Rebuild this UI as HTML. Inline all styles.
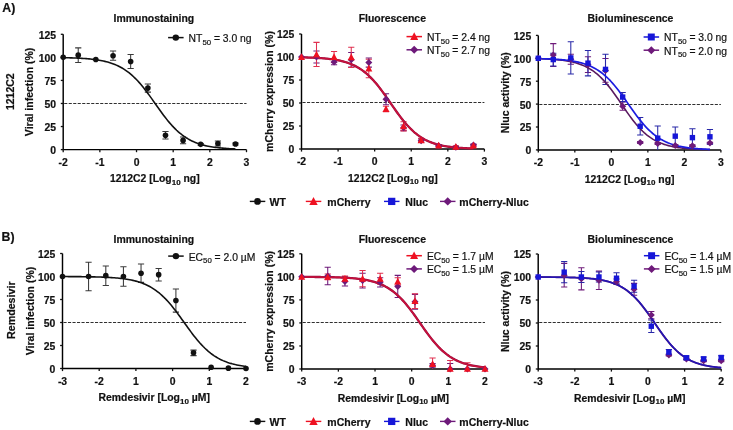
<!DOCTYPE html>
<html><head><meta charset="utf-8"><style>
html,body{margin:0;padding:0;background:#fff;width:733px;height:430px;overflow:hidden}
svg{display:block;will-change:transform}
text{font-family:"Liberation Sans", sans-serif;fill:#111;stroke:#111;stroke-width:0.2px}
</style></head><body>
<svg width="733" height="430" viewBox="0 0 733 430">
<text x="2.3" y="12.2" font-size="12.3" font-weight="bold">A)</text>
<text x="1.6" y="240.5" font-size="12.3" font-weight="bold">B)</text>
<text transform="translate(14.4,91.7) rotate(-90)" font-size="10.5" font-weight="bold" text-anchor="middle">1212C2</text>
<text transform="translate(14.5,310.2) rotate(-90)" font-size="10.7" font-weight="bold" text-anchor="middle">Remdesivir</text>
<text x="153.9" y="21.5" font-size="10.45" font-weight="bold" text-anchor="middle">Immunostaining</text>
<line x1="64.2" y1="103.50" x2="246.5" y2="103.50" stroke="#303030" stroke-width="1.15" stroke-dasharray="3.1 1.4"/>
<path d="M63.20 34.30V149.60H246.50" fill="none" stroke="#000" stroke-width="1.45"/>
<line x1="60.80" y1="149.60" x2="63.20" y2="149.60" stroke="#111111" stroke-width="1.3"/>
<text x="56.10" y="154.00" font-size="10.4" font-weight="bold" text-anchor="end">0</text>
<line x1="60.80" y1="126.54" x2="63.20" y2="126.54" stroke="#111111" stroke-width="1.3"/>
<text x="56.10" y="130.94" font-size="10.4" font-weight="bold" text-anchor="end">25</text>
<line x1="60.80" y1="103.48" x2="63.20" y2="103.48" stroke="#111111" stroke-width="1.3"/>
<text x="56.10" y="107.88" font-size="10.4" font-weight="bold" text-anchor="end">50</text>
<line x1="60.80" y1="80.42" x2="63.20" y2="80.42" stroke="#111111" stroke-width="1.3"/>
<text x="56.10" y="84.82" font-size="10.4" font-weight="bold" text-anchor="end">75</text>
<line x1="60.80" y1="57.36" x2="63.20" y2="57.36" stroke="#111111" stroke-width="1.3"/>
<text x="56.10" y="61.76" font-size="10.4" font-weight="bold" text-anchor="end">100</text>
<line x1="60.80" y1="34.30" x2="63.20" y2="34.30" stroke="#111111" stroke-width="1.3"/>
<text x="56.10" y="38.70" font-size="10.4" font-weight="bold" text-anchor="end">125</text>
<line x1="63.20" y1="149.60" x2="63.20" y2="152.20" stroke="#111111" stroke-width="1.3"/>
<text x="63.20" y="165.60" font-size="10.4" font-weight="bold" text-anchor="middle">-2</text>
<line x1="99.86" y1="149.60" x2="99.86" y2="152.20" stroke="#111111" stroke-width="1.3"/>
<text x="99.86" y="165.60" font-size="10.4" font-weight="bold" text-anchor="middle">-1</text>
<line x1="136.52" y1="149.60" x2="136.52" y2="152.20" stroke="#111111" stroke-width="1.3"/>
<text x="136.52" y="165.60" font-size="10.4" font-weight="bold" text-anchor="middle">0</text>
<line x1="173.18" y1="149.60" x2="173.18" y2="152.20" stroke="#111111" stroke-width="1.3"/>
<text x="173.18" y="165.60" font-size="10.4" font-weight="bold" text-anchor="middle">1</text>
<line x1="209.84" y1="149.60" x2="209.84" y2="152.20" stroke="#111111" stroke-width="1.3"/>
<text x="209.84" y="165.60" font-size="10.4" font-weight="bold" text-anchor="middle">2</text>
<line x1="246.50" y1="149.60" x2="246.50" y2="152.20" stroke="#111111" stroke-width="1.3"/>
<text x="246.50" y="165.60" font-size="10.4" font-weight="bold" text-anchor="middle">3</text>
<text x="154.8" y="182.3" font-size="10.4" font-weight="bold" text-anchor="middle">1212C2 [Log<tspan font-size="8" dy="2.5">10</tspan><tspan dy="-2.5"> ng]</tspan></text>
<text transform="translate(33.3,91.9) rotate(-90)" font-size="10.5" font-weight="bold" text-anchor="middle">Viral infection (%)</text>
<path d="M78.23 47.86V62.43M75.13 47.86H81.33M75.13 62.43H81.33" stroke="#3a3a3a" stroke-width="1.05" fill="none"/>
<path d="M113.06 51.09V60.31M109.96 51.09H116.16M109.96 60.31H116.16" stroke="#3a3a3a" stroke-width="1.05" fill="none"/>
<path d="M130.65 54.59V68.43M127.55 54.59H133.75M127.55 68.43H133.75" stroke="#3a3a3a" stroke-width="1.05" fill="none"/>
<path d="M147.88 84.02V92.13M144.78 84.02H150.98M144.78 92.13H150.98" stroke="#3a3a3a" stroke-width="1.05" fill="none"/>
<path d="M165.48 131.52V138.90M162.38 131.52H168.58M162.38 138.90H168.58" stroke="#3a3a3a" stroke-width="1.05" fill="none"/>
<path d="M183.08 136.96V143.79M179.98 136.96H186.18M179.98 143.79H186.18" stroke="#3a3a3a" stroke-width="1.05" fill="none"/>
<path d="M200.68 143.42V145.26M197.58 143.42H203.78M197.58 145.26H203.78" stroke="#3a3a3a" stroke-width="1.05" fill="none"/>
<path d="M217.91 141.02V146.00M214.81 141.02H221.01M214.81 146.00H221.01" stroke="#3a3a3a" stroke-width="1.05" fill="none"/>
<path d="M235.50 143.14V144.99M232.40 143.14H238.60M232.40 144.99H238.60" stroke="#3a3a3a" stroke-width="1.05" fill="none"/>
<polyline points="63.20,57.68 64.64,57.71 66.07,57.74 67.51,57.78 68.94,57.82 70.38,57.86 71.82,57.90 73.25,57.95 74.69,58.01 76.12,58.07 77.56,58.13 78.99,58.20 80.43,58.28 81.87,58.37 83.30,58.46 84.74,58.56 86.17,58.67 87.61,58.78 89.05,58.91 90.48,59.06 91.92,59.21 93.35,59.38 94.79,59.56 96.22,59.76 97.66,59.97 99.10,60.20 100.53,60.46 101.97,60.73 103.40,61.03 104.84,61.36 106.28,61.71 107.71,62.09 109.15,62.51 110.58,62.95 112.02,63.43 113.45,63.96 114.89,64.52 116.33,65.12 117.76,65.78 119.20,66.48 120.63,67.23 122.07,68.03 123.51,68.90 124.94,69.82 126.38,70.80 127.81,71.85 129.25,72.96 130.68,74.14 132.12,75.39 133.56,76.71 134.99,78.09 136.43,79.55 137.86,81.07 139.30,82.66 140.74,84.32 142.17,86.03 143.61,87.81 145.04,89.64 146.48,91.51 147.92,93.44 149.35,95.39 150.79,97.38 152.22,99.40 153.66,101.43 155.09,103.46 156.53,105.50 157.97,107.53 159.40,109.54 160.84,111.53 162.27,113.49 163.71,115.41 165.15,117.29 166.58,119.12 168.02,120.90 169.45,122.62 170.89,124.27 172.32,125.86 173.76,127.39 175.20,128.84 176.63,130.23 178.07,131.55 179.50,132.80 180.94,133.98 182.38,135.09 183.81,136.14 185.25,137.12 186.68,138.05 188.12,138.91 189.55,139.72 190.99,140.47 192.43,141.17 193.86,141.83 195.30,142.43 196.73,143.00 198.17,143.52 199.61,144.00 201.04,144.45 202.48,144.86 203.91,145.24 205.35,145.60 206.79,145.92 208.22,146.22 209.66,146.50 211.09,146.75 212.53,146.99 213.96,147.20 215.40,147.40 216.84,147.58 218.27,147.75 219.71,147.90 221.14,148.04 222.58,148.17 224.02,148.29 225.45,148.40 226.89,148.50 228.32,148.59 229.76,148.68 231.19,148.75 232.63,148.83 234.07,148.89 235.50,148.95" fill="none" stroke="#111111" stroke-width="1.6"/>
<circle cx="63.20" cy="57.36" r="2.80" fill="#111111"/>
<circle cx="78.23" cy="55.15" r="2.80" fill="#111111"/>
<circle cx="95.83" cy="59.57" r="2.80" fill="#111111"/>
<circle cx="113.06" cy="55.70" r="2.80" fill="#111111"/>
<circle cx="130.65" cy="61.51" r="2.80" fill="#111111"/>
<circle cx="147.88" cy="88.08" r="2.80" fill="#111111"/>
<circle cx="165.48" cy="135.21" r="2.80" fill="#111111"/>
<circle cx="183.08" cy="140.38" r="2.80" fill="#111111"/>
<circle cx="200.68" cy="144.34" r="2.80" fill="#111111"/>
<circle cx="217.91" cy="143.51" r="2.80" fill="#111111"/>
<circle cx="235.50" cy="144.07" r="2.80" fill="#111111"/>
<line x1="168.1" y1="37.60" x2="183.6" y2="37.60" stroke="#111111" stroke-width="1.5"/>
<circle cx="175.80" cy="37.60" r="3.22" fill="#111111"/>
<text x="188.6" y="42.00" font-size="10.35" stroke="#111" stroke-width="0.18">NT<tspan font-size="7.8" dy="2.6">50</tspan><tspan dy="-2.6"> = 3.0 ng</tspan></text>
<text x="392.3" y="21.5" font-size="10.45" font-weight="bold" text-anchor="middle">Fluorescence</text>
<line x1="302.5" y1="102.50" x2="484.4" y2="102.50" stroke="#303030" stroke-width="1.15" stroke-dasharray="3.1 1.4"/>
<path d="M301.50 34.00V149.00H484.40" fill="none" stroke="#000" stroke-width="1.45"/>
<line x1="299.10" y1="149.00" x2="301.50" y2="149.00" stroke="#111111" stroke-width="1.3"/>
<text x="294.40" y="153.40" font-size="10.4" font-weight="bold" text-anchor="end">0</text>
<line x1="299.10" y1="126.00" x2="301.50" y2="126.00" stroke="#111111" stroke-width="1.3"/>
<text x="294.40" y="130.40" font-size="10.4" font-weight="bold" text-anchor="end">25</text>
<line x1="299.10" y1="103.00" x2="301.50" y2="103.00" stroke="#111111" stroke-width="1.3"/>
<text x="294.40" y="107.40" font-size="10.4" font-weight="bold" text-anchor="end">50</text>
<line x1="299.10" y1="80.00" x2="301.50" y2="80.00" stroke="#111111" stroke-width="1.3"/>
<text x="294.40" y="84.40" font-size="10.4" font-weight="bold" text-anchor="end">75</text>
<line x1="299.10" y1="57.00" x2="301.50" y2="57.00" stroke="#111111" stroke-width="1.3"/>
<text x="294.40" y="61.40" font-size="10.4" font-weight="bold" text-anchor="end">100</text>
<line x1="299.10" y1="34.00" x2="301.50" y2="34.00" stroke="#111111" stroke-width="1.3"/>
<text x="294.40" y="38.40" font-size="10.4" font-weight="bold" text-anchor="end">125</text>
<line x1="301.50" y1="149.00" x2="301.50" y2="151.60" stroke="#111111" stroke-width="1.3"/>
<text x="301.50" y="165.00" font-size="10.4" font-weight="bold" text-anchor="middle">-2</text>
<line x1="338.08" y1="149.00" x2="338.08" y2="151.60" stroke="#111111" stroke-width="1.3"/>
<text x="338.08" y="165.00" font-size="10.4" font-weight="bold" text-anchor="middle">-1</text>
<line x1="374.66" y1="149.00" x2="374.66" y2="151.60" stroke="#111111" stroke-width="1.3"/>
<text x="374.66" y="165.00" font-size="10.4" font-weight="bold" text-anchor="middle">0</text>
<line x1="411.24" y1="149.00" x2="411.24" y2="151.60" stroke="#111111" stroke-width="1.3"/>
<text x="411.24" y="165.00" font-size="10.4" font-weight="bold" text-anchor="middle">1</text>
<line x1="447.82" y1="149.00" x2="447.82" y2="151.60" stroke="#111111" stroke-width="1.3"/>
<text x="447.82" y="165.00" font-size="10.4" font-weight="bold" text-anchor="middle">2</text>
<line x1="484.40" y1="149.00" x2="484.40" y2="151.60" stroke="#111111" stroke-width="1.3"/>
<text x="484.40" y="165.00" font-size="10.4" font-weight="bold" text-anchor="middle">3</text>
<text x="392.9" y="181.7" font-size="10.4" font-weight="bold" text-anchor="middle">1212C2 [Log<tspan font-size="8" dy="2.5">10</tspan><tspan dy="-2.5"> ng]</tspan></text>
<text transform="translate(272.6,91.5) rotate(-90)" font-size="10.5" font-weight="bold" text-anchor="middle">mCherry expression (%)</text>
<path d="M316.50 51.02V62.98M313.40 51.02H319.60M313.40 62.98H319.60" stroke="#6e1a7a" stroke-width="1.05" fill="none"/>
<path d="M334.06 59.30V64.82M330.96 59.30H337.16M330.96 64.82H337.16" stroke="#6e1a7a" stroke-width="1.05" fill="none"/>
<path d="M351.25 52.40V67.12M348.15 52.40H354.35M348.15 67.12H354.35" stroke="#6e1a7a" stroke-width="1.05" fill="none"/>
<path d="M368.81 57.92V67.12M365.71 57.92H371.91M365.71 67.12H371.91" stroke="#6e1a7a" stroke-width="1.05" fill="none"/>
<path d="M386.00 93.80V104.84M382.90 93.80H389.10M382.90 104.84H389.10" stroke="#6e1a7a" stroke-width="1.05" fill="none"/>
<path d="M403.56 125.08V130.60M400.46 125.08H406.66M400.46 130.60H406.66" stroke="#6e1a7a" stroke-width="1.05" fill="none"/>
<path d="M421.12 138.88V142.56M418.02 138.88H424.22M418.02 142.56H424.22" stroke="#6e1a7a" stroke-width="1.05" fill="none"/>
<path d="M438.67 144.86V146.70M435.57 144.86H441.77M435.57 146.70H441.77" stroke="#6e1a7a" stroke-width="1.05" fill="none"/>
<path d="M455.87 146.24V148.08M452.77 146.24H458.97M452.77 148.08H458.97" stroke="#6e1a7a" stroke-width="1.05" fill="none"/>
<path d="M473.43 144.12V145.96M470.33 144.12H476.53M470.33 145.96H476.53" stroke="#6e1a7a" stroke-width="1.05" fill="none"/>
<path d="M316.50 42.37V66.48M313.40 42.37H319.60M313.40 66.48H319.60" stroke="#e03050" stroke-width="1.05" fill="none"/>
<path d="M334.06 51.48V62.52M330.96 51.48H337.16M330.96 62.52H337.16" stroke="#e03050" stroke-width="1.05" fill="none"/>
<path d="M351.25 47.16V67.40M348.15 47.16H354.35M348.15 67.40H354.35" stroke="#e03050" stroke-width="1.05" fill="none"/>
<path d="M368.81 59.30V77.70M365.71 59.30H371.91M365.71 77.70H371.91" stroke="#e03050" stroke-width="1.05" fill="none"/>
<path d="M386.00 106.22V111.74M382.90 106.22H389.10M382.90 111.74H389.10" stroke="#e03050" stroke-width="1.05" fill="none"/>
<path d="M403.56 121.68V130.88M400.46 121.68H406.66M400.46 130.88H406.66" stroke="#e03050" stroke-width="1.05" fill="none"/>
<path d="M421.12 138.33V142.01M418.02 138.33H424.22M418.02 142.01H424.22" stroke="#e03050" stroke-width="1.05" fill="none"/>
<path d="M438.67 144.58V146.42M435.57 144.58H441.77M435.57 146.42H441.77" stroke="#e03050" stroke-width="1.05" fill="none"/>
<path d="M455.87 145.78V147.62M452.77 145.78H458.97M452.77 147.62H458.97" stroke="#e03050" stroke-width="1.05" fill="none"/>
<path d="M473.43 144.58V146.42M470.33 144.58H476.53M470.33 146.42H476.53" stroke="#e03050" stroke-width="1.05" fill="none"/>
<polyline points="301.50,57.34 302.93,57.37 304.37,57.40 305.80,57.44 307.23,57.48 308.66,57.53 310.10,57.58 311.53,57.63 312.96,57.69 314.39,57.76 315.83,57.83 317.26,57.91 318.69,57.99 320.13,58.08 321.56,58.18 322.99,58.29 324.42,58.41 325.86,58.55 327.29,58.69 328.72,58.85 330.15,59.02 331.59,59.20 333.02,59.40 334.45,59.62 335.89,59.86 337.32,60.13 338.75,60.41 340.18,60.72 341.62,61.05 343.05,61.42 344.48,61.81 345.91,62.24 347.35,62.71 348.78,63.21 350.21,63.75 351.65,64.34 353.08,64.97 354.51,65.65 355.94,66.38 357.38,67.17 358.81,68.02 360.24,68.92 361.67,69.89 363.11,70.92 364.54,72.02 365.97,73.19 367.40,74.43 368.84,75.74 370.27,77.12 371.70,78.57 373.14,80.10 374.57,81.69 376.00,83.36 377.43,85.08 378.87,86.87 380.30,88.72 381.73,90.62 383.16,92.57 384.60,94.55 386.03,96.57 387.46,98.62 388.90,100.68 390.33,102.75 391.76,104.83 393.19,106.89 394.63,108.94 396.06,110.97 397.49,112.96 398.92,114.92 400.36,116.83 401.79,118.69 403.22,120.50 404.66,122.24 406.09,123.92 407.52,125.53 408.95,127.07 410.39,128.54 411.82,129.94 413.25,131.27 414.68,132.52 416.12,133.71 417.55,134.82 418.98,135.87 420.42,136.85 421.85,137.77 423.28,138.63 424.71,139.43 426.15,140.18 427.58,140.87 429.01,141.52 430.44,142.11 431.88,142.67 433.31,143.18 434.74,143.65 436.18,144.09 437.61,144.49 439.04,144.86 440.47,145.20 441.91,145.52 443.34,145.81 444.77,146.08 446.20,146.32 447.64,146.55 449.07,146.75 450.50,146.94 451.94,147.12 453.37,147.27 454.80,147.42 456.23,147.55 457.67,147.68 459.10,147.79 460.53,147.89 461.96,147.99 463.40,148.07 464.83,148.15 466.26,148.23 467.70,148.29 469.13,148.35 470.56,148.41 471.99,148.46 473.43,148.51" fill="none" stroke="#901040" stroke-width="2.3"/>
<polyline points="301.50,57.34 302.93,57.37 304.37,57.40 305.80,57.44 307.23,57.48 308.66,57.53 310.10,57.58 311.53,57.63 312.96,57.69 314.39,57.76 315.83,57.83 317.26,57.91 318.69,57.99 320.13,58.08 321.56,58.18 322.99,58.29 324.42,58.41 325.86,58.55 327.29,58.69 328.72,58.85 330.15,59.02 331.59,59.20 333.02,59.40 334.45,59.62 335.89,59.86 337.32,60.13 338.75,60.41 340.18,60.72 341.62,61.05 343.05,61.42 344.48,61.81 345.91,62.24 347.35,62.71 348.78,63.21 350.21,63.75 351.65,64.34 353.08,64.97 354.51,65.65 355.94,66.38 357.38,67.17 358.81,68.02 360.24,68.92 361.67,69.89 363.11,70.92 364.54,72.02 365.97,73.19 367.40,74.43 368.84,75.74 370.27,77.12 371.70,78.57 373.14,80.10 374.57,81.69 376.00,83.36 377.43,85.08 378.87,86.87 380.30,88.72 381.73,90.62 383.16,92.57 384.60,94.55 386.03,96.57 387.46,98.62 388.90,100.68 390.33,102.75 391.76,104.83 393.19,106.89 394.63,108.94 396.06,110.97 397.49,112.96 398.92,114.92 400.36,116.83 401.79,118.69 403.22,120.50 404.66,122.24 406.09,123.92 407.52,125.53 408.95,127.07 410.39,128.54 411.82,129.94 413.25,131.27 414.68,132.52 416.12,133.71 417.55,134.82 418.98,135.87 420.42,136.85 421.85,137.77 423.28,138.63 424.71,139.43 426.15,140.18 427.58,140.87 429.01,141.52 430.44,142.11 431.88,142.67 433.31,143.18 434.74,143.65 436.18,144.09 437.61,144.49 439.04,144.86 440.47,145.20 441.91,145.52 443.34,145.81 444.77,146.08 446.20,146.32 447.64,146.55 449.07,146.75 450.50,146.94 451.94,147.12 453.37,147.27 454.80,147.42 456.23,147.55 457.67,147.68 459.10,147.79 460.53,147.89 461.96,147.99 463.40,148.07 464.83,148.15 466.26,148.23 467.70,148.29 469.13,148.35 470.56,148.41 471.99,148.46 473.43,148.51" fill="none" stroke="#c8103c" stroke-width="1.6"/>
<path d="M301.50 53.50L305.00 57.00L301.50 60.50L298.00 57.00Z" fill="#6e1a7a"/>
<path d="M316.50 53.50L320.00 57.00L316.50 60.50L313.00 57.00Z" fill="#6e1a7a"/>
<path d="M334.06 58.56L337.56 62.06L334.06 65.56L330.56 62.06Z" fill="#6e1a7a"/>
<path d="M351.25 56.26L354.75 59.76L351.25 63.26L347.75 59.76Z" fill="#6e1a7a"/>
<path d="M368.81 59.02L372.31 62.52L368.81 66.02L365.31 62.52Z" fill="#6e1a7a"/>
<path d="M386.00 95.82L389.50 99.32L386.00 102.82L382.50 99.32Z" fill="#6e1a7a"/>
<path d="M403.56 124.34L407.06 127.84L403.56 131.34L400.06 127.84Z" fill="#6e1a7a"/>
<path d="M421.12 137.22L424.62 140.72L421.12 144.22L417.62 140.72Z" fill="#6e1a7a"/>
<path d="M438.67 142.28L442.17 145.78L438.67 149.28L435.17 145.78Z" fill="#6e1a7a"/>
<path d="M455.87 143.66L459.37 147.16L455.87 150.66L452.37 147.16Z" fill="#6e1a7a"/>
<path d="M473.43 141.54L476.93 145.04L473.43 148.54L469.93 145.04Z" fill="#6e1a7a"/>
<path d="M301.50 53.33L305.00 59.98L298.00 59.98Z" fill="#ee1122"/>
<path d="M316.50 50.75L320.00 57.40L313.00 57.40Z" fill="#ee1122"/>
<path d="M334.06 53.33L337.56 59.98L330.56 59.98Z" fill="#ee1122"/>
<path d="M351.25 53.60L354.75 60.25L347.75 60.25Z" fill="#ee1122"/>
<path d="M368.81 64.83L372.31 71.47L365.31 71.47Z" fill="#ee1122"/>
<path d="M386.00 105.30L389.50 111.95L382.50 111.95Z" fill="#ee1122"/>
<path d="M403.56 122.60L407.06 129.25L400.06 129.25Z" fill="#ee1122"/>
<path d="M421.12 136.49L424.62 143.14L417.62 143.14Z" fill="#ee1122"/>
<path d="M438.67 141.83L442.17 148.48L435.17 148.48Z" fill="#ee1122"/>
<path d="M455.87 143.02L459.37 149.67L452.37 149.67Z" fill="#ee1122"/>
<path d="M473.43 141.83L476.93 148.48L469.93 148.48Z" fill="#ee1122"/>
<line x1="406.5" y1="36.60" x2="422.0" y2="36.60" stroke="#ee1122" stroke-width="1.5"/>
<path d="M414.20 32.37L418.22 40.02L410.18 40.02Z" fill="#ee1122"/>
<text x="427.0" y="41.00" font-size="10.35" stroke="#111" stroke-width="0.18">NT<tspan font-size="7.8" dy="2.6">50</tspan><tspan dy="-2.6"> = 2.4 ng</tspan></text>
<line x1="406.5" y1="49.80" x2="422.0" y2="49.80" stroke="#6e1a7a" stroke-width="1.5"/>
<path d="M414.20 45.77L418.22 49.80L414.20 53.82L410.18 49.80Z" fill="#6e1a7a"/>
<text x="427.0" y="54.20" font-size="10.35" stroke="#111" stroke-width="0.18">NT<tspan font-size="7.8" dy="2.6">50</tspan><tspan dy="-2.6"> = 2.7 ng</tspan></text>
<text x="630.5" y="21.5" font-size="10.45" font-weight="bold" text-anchor="middle">Bioluminescence</text>
<line x1="539.3" y1="104.50" x2="720.9" y2="104.50" stroke="#303030" stroke-width="1.15" stroke-dasharray="3.1 1.4"/>
<path d="M538.30 35.40V149.90H720.90" fill="none" stroke="#000" stroke-width="1.45"/>
<line x1="535.90" y1="149.90" x2="538.30" y2="149.90" stroke="#111111" stroke-width="1.3"/>
<text x="531.20" y="154.30" font-size="10.4" font-weight="bold" text-anchor="end">0</text>
<line x1="535.90" y1="127.00" x2="538.30" y2="127.00" stroke="#111111" stroke-width="1.3"/>
<text x="531.20" y="131.40" font-size="10.4" font-weight="bold" text-anchor="end">25</text>
<line x1="535.90" y1="104.10" x2="538.30" y2="104.10" stroke="#111111" stroke-width="1.3"/>
<text x="531.20" y="108.50" font-size="10.4" font-weight="bold" text-anchor="end">50</text>
<line x1="535.90" y1="81.20" x2="538.30" y2="81.20" stroke="#111111" stroke-width="1.3"/>
<text x="531.20" y="85.60" font-size="10.4" font-weight="bold" text-anchor="end">75</text>
<line x1="535.90" y1="58.30" x2="538.30" y2="58.30" stroke="#111111" stroke-width="1.3"/>
<text x="531.20" y="62.70" font-size="10.4" font-weight="bold" text-anchor="end">100</text>
<line x1="535.90" y1="35.40" x2="538.30" y2="35.40" stroke="#111111" stroke-width="1.3"/>
<text x="531.20" y="39.80" font-size="10.4" font-weight="bold" text-anchor="end">125</text>
<line x1="538.30" y1="149.90" x2="538.30" y2="152.50" stroke="#111111" stroke-width="1.3"/>
<text x="538.30" y="165.90" font-size="10.4" font-weight="bold" text-anchor="middle">-2</text>
<line x1="574.82" y1="149.90" x2="574.82" y2="152.50" stroke="#111111" stroke-width="1.3"/>
<text x="574.82" y="165.90" font-size="10.4" font-weight="bold" text-anchor="middle">-1</text>
<line x1="611.34" y1="149.90" x2="611.34" y2="152.50" stroke="#111111" stroke-width="1.3"/>
<text x="611.34" y="165.90" font-size="10.4" font-weight="bold" text-anchor="middle">0</text>
<line x1="647.86" y1="149.90" x2="647.86" y2="152.50" stroke="#111111" stroke-width="1.3"/>
<text x="647.86" y="165.90" font-size="10.4" font-weight="bold" text-anchor="middle">1</text>
<line x1="684.38" y1="149.90" x2="684.38" y2="152.50" stroke="#111111" stroke-width="1.3"/>
<text x="684.38" y="165.90" font-size="10.4" font-weight="bold" text-anchor="middle">2</text>
<line x1="720.90" y1="149.90" x2="720.90" y2="152.50" stroke="#111111" stroke-width="1.3"/>
<text x="720.90" y="165.90" font-size="10.4" font-weight="bold" text-anchor="middle">3</text>
<text x="629.6" y="182.6" font-size="10.4" font-weight="bold" text-anchor="middle">1212C2 [Log<tspan font-size="8" dy="2.5">10</tspan><tspan dy="-2.5"> ng]</tspan></text>
<text transform="translate(509.4,92.7) rotate(-90)" font-size="10.5" font-weight="bold" text-anchor="middle">Nluc activity (%)</text>
<path d="M553.27 43.64V66.54M550.17 43.64H556.37M550.17 66.54H556.37" stroke="#6e1a7a" stroke-width="1.05" fill="none"/>
<path d="M570.80 54.18V64.25M567.70 54.18H573.90M567.70 64.25H573.90" stroke="#6e1a7a" stroke-width="1.05" fill="none"/>
<path d="M587.97 56.65V72.41M584.87 56.65H591.07M584.87 72.41H591.07" stroke="#6e1a7a" stroke-width="1.05" fill="none"/>
<path d="M605.50 58.48V82.30M602.40 58.48H608.60M602.40 82.30H608.60" stroke="#6e1a7a" stroke-width="1.05" fill="none"/>
<path d="M622.66 102.08V110.33M619.56 102.08H625.76M619.56 110.33H625.76" stroke="#6e1a7a" stroke-width="1.05" fill="none"/>
<path d="M640.19 141.56V143.40M637.09 141.56H643.29M637.09 143.40H643.29" stroke="#6e1a7a" stroke-width="1.05" fill="none"/>
<path d="M657.72 142.57V144.40M654.62 142.57H660.82M654.62 144.40H660.82" stroke="#6e1a7a" stroke-width="1.05" fill="none"/>
<path d="M675.25 144.59V146.42M672.15 144.59H678.35M672.15 146.42H678.35" stroke="#6e1a7a" stroke-width="1.05" fill="none"/>
<path d="M692.41 144.77V146.60M689.31 144.77H695.51M689.31 146.60H695.51" stroke="#6e1a7a" stroke-width="1.05" fill="none"/>
<path d="M709.94 142.21V144.04M706.84 142.21H713.04M706.84 144.04H713.04" stroke="#6e1a7a" stroke-width="1.05" fill="none"/>
<path d="M553.27 53.17V65.99M550.17 53.17H556.37M550.17 65.99H556.37" stroke="#2828a8" stroke-width="1.05" fill="none"/>
<path d="M570.80 41.81V74.06M567.70 41.81H573.90M567.70 74.06H573.90" stroke="#2828a8" stroke-width="1.05" fill="none"/>
<path d="M587.97 50.42V75.89M584.87 50.42H591.07M584.87 75.89H591.07" stroke="#2828a8" stroke-width="1.05" fill="none"/>
<path d="M605.50 54.27V84.50M602.40 54.27H608.60M602.40 84.50H608.60" stroke="#2828a8" stroke-width="1.05" fill="none"/>
<path d="M622.66 92.47V101.63M619.56 92.47H625.76M619.56 101.63H625.76" stroke="#2828a8" stroke-width="1.05" fill="none"/>
<path d="M640.19 117.57V134.97M637.09 117.57H643.29M637.09 134.97H643.29" stroke="#2828a8" stroke-width="1.05" fill="none"/>
<path d="M657.72 125.99V149.90M654.62 125.99H660.82" stroke="#2828a8" stroke-width="1.05" fill="none"/>
<path d="M675.25 127.00V145.32M672.15 127.00H678.35M672.15 145.32H678.35" stroke="#2828a8" stroke-width="1.05" fill="none"/>
<path d="M692.41 128.74V146.51M689.31 128.74H695.51M689.31 146.51H695.51" stroke="#2828a8" stroke-width="1.05" fill="none"/>
<path d="M709.94 129.47V144.13M706.84 129.47H713.04M706.84 144.13H713.04" stroke="#2828a8" stroke-width="1.05" fill="none"/>
<polyline points="538.30,58.73 539.73,58.77 541.16,58.82 542.59,58.87 544.02,58.92 545.45,58.98 546.88,59.05 548.31,59.12 549.74,59.20 551.17,59.28 552.60,59.38 554.03,59.48 555.46,59.59 556.89,59.72 558.33,59.85 559.76,60.00 561.19,60.16 562.62,60.33 564.05,60.52 565.48,60.73 566.91,60.96 568.34,61.21 569.77,61.48 571.20,61.77 572.63,62.09 574.06,62.44 575.49,62.82 576.92,63.23 578.35,63.68 579.78,64.16 581.21,64.69 582.64,65.26 584.07,65.87 585.50,66.54 586.93,67.25 588.36,68.02 589.79,68.85 591.22,69.74 592.65,70.70 594.08,71.72 595.51,72.80 596.95,73.96 598.38,75.19 599.81,76.50 601.24,77.88 602.67,79.33 604.10,80.86 605.53,82.46 606.96,84.13 608.39,85.87 609.82,87.67 611.25,89.54 612.68,91.46 614.11,93.43 615.54,95.44 616.97,97.49 618.40,99.56 619.83,101.66 621.26,103.76 622.69,105.87 624.12,107.96 625.55,110.05 626.98,112.10 628.41,114.13 629.84,116.11 631.27,118.05 632.70,119.93 634.13,121.76 635.56,123.52 637.00,125.21 638.43,126.83 639.86,128.39 641.29,129.86 642.72,131.27 644.15,132.59 645.58,133.85 647.01,135.03 648.44,136.14 649.87,137.18 651.30,138.16 652.73,139.07 654.16,139.91 655.59,140.70 657.02,141.44 658.45,142.12 659.88,142.75 661.31,143.33 662.74,143.87 664.17,144.37 665.60,144.83 667.03,145.25 668.46,145.64 669.89,146.00 671.32,146.33 672.75,146.63 674.18,146.91 675.62,147.16 677.05,147.40 678.48,147.61 679.91,147.81 681.34,147.99 682.77,148.15 684.20,148.30 685.63,148.44 687.06,148.57 688.49,148.68 689.92,148.79 691.35,148.89 692.78,148.97 694.21,149.05 695.64,149.13 697.07,149.20 698.50,149.26 699.93,149.31 701.36,149.36 702.79,149.41 704.22,149.45 705.65,149.49 707.08,149.53 708.51,149.56 709.94,149.59" fill="none" stroke="#5a1a60" stroke-width="1.6"/>
<polyline points="538.30,58.63 539.73,58.66 541.16,58.69 542.59,58.73 544.02,58.77 545.45,58.82 546.88,58.86 548.31,58.92 549.74,58.97 551.17,59.03 552.60,59.10 554.03,59.18 555.46,59.26 556.89,59.35 558.33,59.44 559.76,59.55 561.19,59.66 562.62,59.79 564.05,59.92 565.48,60.07 566.91,60.24 568.34,60.41 569.77,60.60 571.20,60.81 572.63,61.04 574.06,61.29 575.49,61.56 576.92,61.85 578.35,62.17 579.78,62.51 581.21,62.89 582.64,63.29 584.07,63.73 585.50,64.20 586.93,64.72 588.36,65.27 589.79,65.87 591.22,66.51 592.65,67.20 594.08,67.95 595.51,68.75 596.95,69.60 598.38,70.52 599.81,71.49 601.24,72.53 602.67,73.64 604.10,74.81 605.53,76.06 606.96,77.37 608.39,78.75 609.82,80.21 611.25,81.73 612.68,83.32 614.11,84.98 615.54,86.70 616.97,88.47 618.40,90.31 619.83,92.19 621.26,94.12 622.69,96.08 624.12,98.08 625.55,100.10 626.98,102.13 628.41,104.18 629.84,106.22 631.27,108.26 632.70,110.27 634.13,112.27 635.56,114.23 637.00,116.16 638.43,118.03 639.86,119.86 641.29,121.64 642.72,123.35 644.15,125.00 645.58,126.59 647.01,128.11 648.44,129.55 649.87,130.93 651.30,132.24 652.73,133.48 654.16,134.65 655.59,135.75 657.02,136.78 658.45,137.76 659.88,138.67 661.31,139.52 662.74,140.31 664.17,141.05 665.60,141.74 667.03,142.38 668.46,142.97 669.89,143.52 671.32,144.03 672.75,144.50 674.18,144.94 675.62,145.34 677.05,145.71 678.48,146.06 679.91,146.37 681.34,146.66 682.77,146.93 684.20,147.18 685.63,147.40 687.06,147.61 688.49,147.80 689.92,147.98 691.35,148.14 692.78,148.29 694.21,148.42 695.64,148.55 697.07,148.66 698.50,148.76 699.93,148.86 701.36,148.95 702.79,149.03 704.22,149.10 705.65,149.17 707.08,149.23 708.51,149.29 709.94,149.34" fill="none" stroke="#1c1ce0" stroke-width="1.7"/>
<path d="M538.30 54.80L541.80 58.30L538.30 61.80L534.80 58.30Z" fill="#6e1a7a"/>
<path d="M553.27 51.59L556.77 55.09L553.27 58.59L549.77 55.09Z" fill="#6e1a7a"/>
<path d="M570.80 55.72L574.30 59.22L570.80 62.72L567.30 59.22Z" fill="#6e1a7a"/>
<path d="M587.97 61.03L591.47 64.53L587.97 68.03L584.47 64.53Z" fill="#6e1a7a"/>
<path d="M605.50 66.89L609.00 70.39L605.50 73.89L602.00 70.39Z" fill="#6e1a7a"/>
<path d="M622.66 102.71L626.16 106.21L622.66 109.71L619.16 106.21Z" fill="#6e1a7a"/>
<path d="M640.19 138.98L643.69 142.48L640.19 145.98L636.69 142.48Z" fill="#6e1a7a"/>
<path d="M657.72 139.99L661.22 143.49L657.72 146.99L654.22 143.49Z" fill="#6e1a7a"/>
<path d="M675.25 142.00L678.75 145.50L675.25 149.00L671.75 145.50Z" fill="#6e1a7a"/>
<path d="M692.41 142.19L695.91 145.69L692.41 149.19L688.91 145.69Z" fill="#6e1a7a"/>
<path d="M709.94 139.62L713.44 143.12L709.94 146.62L706.44 143.12Z" fill="#6e1a7a"/>
<rect x="535.60" y="55.60" width="5.40" height="5.40" fill="#1616d8"/>
<rect x="550.57" y="56.88" width="5.40" height="5.40" fill="#1616d8"/>
<rect x="568.10" y="55.23" width="5.40" height="5.40" fill="#1616d8"/>
<rect x="585.27" y="60.45" width="5.40" height="5.40" fill="#1616d8"/>
<rect x="602.80" y="66.68" width="5.40" height="5.40" fill="#1616d8"/>
<rect x="619.96" y="94.35" width="5.40" height="5.40" fill="#1616d8"/>
<rect x="637.49" y="123.57" width="5.40" height="5.40" fill="#1616d8"/>
<rect x="655.02" y="135.48" width="5.40" height="5.40" fill="#1616d8"/>
<rect x="672.55" y="133.46" width="5.40" height="5.40" fill="#1616d8"/>
<rect x="689.71" y="134.93" width="5.40" height="5.40" fill="#1616d8"/>
<rect x="707.24" y="134.10" width="5.40" height="5.40" fill="#1616d8"/>
<line x1="643.6" y1="37.00" x2="659.1" y2="37.00" stroke="#1616d8" stroke-width="1.5"/>
<rect x="647.82" y="33.52" width="6.96" height="6.96" fill="#1616d8"/>
<text x="664.1" y="41.40" font-size="10.35" stroke="#111" stroke-width="0.18">NT<tspan font-size="7.8" dy="2.6">50</tspan><tspan dy="-2.6"> = 3.0 ng</tspan></text>
<line x1="643.6" y1="50.20" x2="659.1" y2="50.20" stroke="#6e1a7a" stroke-width="1.5"/>
<path d="M651.30 46.18L655.33 50.20L651.30 54.23L647.28 50.20Z" fill="#6e1a7a"/>
<text x="664.1" y="54.60" font-size="10.35" stroke="#111" stroke-width="0.18">NT<tspan font-size="7.8" dy="2.6">50</tspan><tspan dy="-2.6"> = 2.0 ng</tspan></text>
<text x="153.9" y="243.4" font-size="10.45" font-weight="bold" text-anchor="middle">Immunostaining</text>
<line x1="63.5" y1="322.50" x2="246.0" y2="322.50" stroke="#303030" stroke-width="1.15" stroke-dasharray="3.1 1.4"/>
<path d="M62.50 253.50V368.50H246.00" fill="none" stroke="#000" stroke-width="1.45"/>
<line x1="60.10" y1="368.50" x2="62.50" y2="368.50" stroke="#111111" stroke-width="1.3"/>
<text x="55.40" y="372.90" font-size="10.4" font-weight="bold" text-anchor="end">0</text>
<line x1="60.10" y1="345.50" x2="62.50" y2="345.50" stroke="#111111" stroke-width="1.3"/>
<text x="55.40" y="349.90" font-size="10.4" font-weight="bold" text-anchor="end">25</text>
<line x1="60.10" y1="322.50" x2="62.50" y2="322.50" stroke="#111111" stroke-width="1.3"/>
<text x="55.40" y="326.90" font-size="10.4" font-weight="bold" text-anchor="end">50</text>
<line x1="60.10" y1="299.50" x2="62.50" y2="299.50" stroke="#111111" stroke-width="1.3"/>
<text x="55.40" y="303.90" font-size="10.4" font-weight="bold" text-anchor="end">75</text>
<line x1="60.10" y1="276.50" x2="62.50" y2="276.50" stroke="#111111" stroke-width="1.3"/>
<text x="55.40" y="280.90" font-size="10.4" font-weight="bold" text-anchor="end">100</text>
<line x1="60.10" y1="253.50" x2="62.50" y2="253.50" stroke="#111111" stroke-width="1.3"/>
<text x="55.40" y="257.90" font-size="10.4" font-weight="bold" text-anchor="end">125</text>
<line x1="62.50" y1="368.50" x2="62.50" y2="371.10" stroke="#111111" stroke-width="1.3"/>
<text x="62.50" y="384.50" font-size="10.4" font-weight="bold" text-anchor="middle">-3</text>
<line x1="99.20" y1="368.50" x2="99.20" y2="371.10" stroke="#111111" stroke-width="1.3"/>
<text x="99.20" y="384.50" font-size="10.4" font-weight="bold" text-anchor="middle">-2</text>
<line x1="135.90" y1="368.50" x2="135.90" y2="371.10" stroke="#111111" stroke-width="1.3"/>
<text x="135.90" y="384.50" font-size="10.4" font-weight="bold" text-anchor="middle">1</text>
<line x1="172.60" y1="368.50" x2="172.60" y2="371.10" stroke="#111111" stroke-width="1.3"/>
<text x="172.60" y="384.50" font-size="10.4" font-weight="bold" text-anchor="middle">0</text>
<line x1="209.30" y1="368.50" x2="209.30" y2="371.10" stroke="#111111" stroke-width="1.3"/>
<text x="209.30" y="384.50" font-size="10.4" font-weight="bold" text-anchor="middle">1</text>
<line x1="246.00" y1="368.50" x2="246.00" y2="371.10" stroke="#111111" stroke-width="1.3"/>
<text x="246.00" y="384.50" font-size="10.4" font-weight="bold" text-anchor="middle">2</text>
<text x="154.2" y="401.2" font-size="10.4" font-weight="bold" text-anchor="middle">Remdesivir [Log<tspan font-size="8" dy="2.5">10</tspan><tspan dy="-2.5"> µM]</tspan></text>
<text transform="translate(33.6,311.0) rotate(-90)" font-size="10.5" font-weight="bold" text-anchor="middle">Viral infection (%)</text>
<path d="M88.56 262.33V290.67M85.46 262.33H91.66M85.46 290.67H91.66" stroke="#3a3a3a" stroke-width="1.05" fill="none"/>
<path d="M105.81 265.92V285.42M102.71 265.92H108.91M102.71 285.42H108.91" stroke="#3a3a3a" stroke-width="1.05" fill="none"/>
<path d="M123.42 266.66V286.34M120.32 266.66H126.52M120.32 286.34H126.52" stroke="#3a3a3a" stroke-width="1.05" fill="none"/>
<path d="M141.04 263.99V282.39M137.94 263.99H144.14M137.94 282.39H144.14" stroke="#3a3a3a" stroke-width="1.05" fill="none"/>
<path d="M158.65 268.40V280.92M155.55 268.40H161.75M155.55 280.92H161.75" stroke="#3a3a3a" stroke-width="1.05" fill="none"/>
<path d="M175.90 288.92V312.10M172.80 288.92H179.00M172.80 312.10H179.00" stroke="#3a3a3a" stroke-width="1.05" fill="none"/>
<path d="M193.52 350.10V355.62M190.42 350.10H196.62M190.42 355.62H196.62" stroke="#3a3a3a" stroke-width="1.05" fill="none"/>
<polyline points="62.50,276.56 64.03,276.56 65.56,276.57 67.09,276.57 68.62,276.58 70.15,276.59 71.67,276.60 73.20,276.61 74.73,276.62 76.26,276.63 77.79,276.64 79.32,276.66 80.85,276.67 82.38,276.69 83.91,276.71 85.44,276.73 86.97,276.75 88.50,276.77 90.03,276.80 91.55,276.83 93.08,276.86 94.61,276.89 96.14,276.93 97.67,276.97 99.20,277.02 100.73,277.07 102.26,277.13 103.79,277.19 105.32,277.25 106.85,277.32 108.38,277.40 109.90,277.49 111.43,277.59 112.96,277.69 114.49,277.81 116.02,277.93 117.55,278.07 119.08,278.22 120.61,278.38 122.14,278.56 123.67,278.76 125.20,278.97 126.72,279.21 128.25,279.46 129.78,279.74 131.31,280.05 132.84,280.38 134.37,280.74 135.90,281.13 137.43,281.56 138.96,282.02 140.49,282.53 142.02,283.07 143.55,283.66 145.07,284.30 146.60,284.99 148.13,285.74 149.66,286.54 151.19,287.40 152.72,288.33 154.25,289.32 155.78,290.39 157.31,291.52 158.84,292.73 160.37,294.01 161.90,295.37 163.43,296.80 164.95,298.31 166.48,299.90 168.01,301.56 169.54,303.29 171.07,305.09 172.60,306.95 174.13,308.88 175.66,310.86 177.19,312.88 178.72,314.95 180.25,317.05 181.78,319.17 183.30,321.30 184.83,323.44 186.36,325.58 187.89,327.70 189.42,329.80 190.95,331.87 192.48,333.90 194.01,335.89 195.54,337.82 197.07,339.69 198.60,341.50 200.12,343.24 201.65,344.91 203.18,346.50 204.71,348.02 206.24,349.47 207.77,350.83 209.30,352.12 210.83,353.34 212.36,354.48 213.89,355.55 215.42,356.55 216.95,357.49 218.47,358.36 220.00,359.17 221.53,359.92 223.06,360.62 224.59,361.26 226.12,361.86 227.65,362.41 229.18,362.92 230.71,363.39 232.24,363.82 233.77,364.21 235.30,364.58 236.82,364.91 238.35,365.22 239.88,365.50 241.41,365.76 242.94,366.00 244.47,366.22 246.00,366.41" fill="none" stroke="#111111" stroke-width="1.6"/>
<circle cx="62.50" cy="276.50" r="2.80" fill="#111111"/>
<circle cx="88.56" cy="276.50" r="2.80" fill="#111111"/>
<circle cx="105.81" cy="275.67" r="2.80" fill="#111111"/>
<circle cx="123.42" cy="276.50" r="2.80" fill="#111111"/>
<circle cx="141.04" cy="273.19" r="2.80" fill="#111111"/>
<circle cx="158.65" cy="274.66" r="2.80" fill="#111111"/>
<circle cx="175.90" cy="300.51" r="2.80" fill="#111111"/>
<circle cx="193.52" cy="352.86" r="2.80" fill="#111111"/>
<circle cx="211.13" cy="367.30" r="2.80" fill="#111111"/>
<circle cx="228.38" cy="368.13" r="2.80" fill="#111111"/>
<circle cx="246.00" cy="368.50" r="2.80" fill="#111111"/>
<line x1="168.2" y1="256.10" x2="183.7" y2="256.10" stroke="#111111" stroke-width="1.5"/>
<circle cx="175.90" cy="256.10" r="3.22" fill="#111111"/>
<text x="188.7" y="260.50" font-size="10.35" stroke="#111" stroke-width="0.18">EC<tspan font-size="7.8" dy="2.6">50</tspan><tspan dy="-2.6"> = 2.0 µM</tspan></text>
<text x="392.3" y="243.4" font-size="10.45" font-weight="bold" text-anchor="middle">Fluorescence</text>
<line x1="302.7" y1="322.50" x2="485.0" y2="322.50" stroke="#303030" stroke-width="1.15" stroke-dasharray="3.1 1.4"/>
<path d="M301.70 253.80V369.00H485.00" fill="none" stroke="#000" stroke-width="1.45"/>
<line x1="299.30" y1="369.00" x2="301.70" y2="369.00" stroke="#111111" stroke-width="1.3"/>
<text x="294.60" y="373.40" font-size="10.4" font-weight="bold" text-anchor="end">0</text>
<line x1="299.30" y1="345.96" x2="301.70" y2="345.96" stroke="#111111" stroke-width="1.3"/>
<text x="294.60" y="350.36" font-size="10.4" font-weight="bold" text-anchor="end">25</text>
<line x1="299.30" y1="322.92" x2="301.70" y2="322.92" stroke="#111111" stroke-width="1.3"/>
<text x="294.60" y="327.32" font-size="10.4" font-weight="bold" text-anchor="end">50</text>
<line x1="299.30" y1="299.88" x2="301.70" y2="299.88" stroke="#111111" stroke-width="1.3"/>
<text x="294.60" y="304.28" font-size="10.4" font-weight="bold" text-anchor="end">75</text>
<line x1="299.30" y1="276.84" x2="301.70" y2="276.84" stroke="#111111" stroke-width="1.3"/>
<text x="294.60" y="281.24" font-size="10.4" font-weight="bold" text-anchor="end">100</text>
<line x1="299.30" y1="253.80" x2="301.70" y2="253.80" stroke="#111111" stroke-width="1.3"/>
<text x="294.60" y="258.20" font-size="10.4" font-weight="bold" text-anchor="end">125</text>
<line x1="301.70" y1="369.00" x2="301.70" y2="371.60" stroke="#111111" stroke-width="1.3"/>
<text x="301.70" y="385.00" font-size="10.4" font-weight="bold" text-anchor="middle">-3</text>
<line x1="338.36" y1="369.00" x2="338.36" y2="371.60" stroke="#111111" stroke-width="1.3"/>
<text x="338.36" y="385.00" font-size="10.4" font-weight="bold" text-anchor="middle">-2</text>
<line x1="375.02" y1="369.00" x2="375.02" y2="371.60" stroke="#111111" stroke-width="1.3"/>
<text x="375.02" y="385.00" font-size="10.4" font-weight="bold" text-anchor="middle">1</text>
<line x1="411.68" y1="369.00" x2="411.68" y2="371.60" stroke="#111111" stroke-width="1.3"/>
<text x="411.68" y="385.00" font-size="10.4" font-weight="bold" text-anchor="middle">0</text>
<line x1="448.34" y1="369.00" x2="448.34" y2="371.60" stroke="#111111" stroke-width="1.3"/>
<text x="448.34" y="385.00" font-size="10.4" font-weight="bold" text-anchor="middle">1</text>
<line x1="485.00" y1="369.00" x2="485.00" y2="371.60" stroke="#111111" stroke-width="1.3"/>
<text x="485.00" y="385.00" font-size="10.4" font-weight="bold" text-anchor="middle">2</text>
<text x="393.4" y="401.7" font-size="10.4" font-weight="bold" text-anchor="middle">Remdesivir [Log<tspan font-size="8" dy="2.5">10</tspan><tspan dy="-2.5"> µM]</tspan></text>
<text transform="translate(272.8,311.4) rotate(-90)" font-size="10.5" font-weight="bold" text-anchor="middle">mCherry expression (%)</text>
<path d="M327.73 267.16V284.67M324.63 267.16H330.83M324.63 284.67H330.83" stroke="#6e1a7a" stroke-width="1.05" fill="none"/>
<path d="M344.96 276.84V286.06M341.86 276.84H348.06M341.86 286.06H348.06" stroke="#6e1a7a" stroke-width="1.05" fill="none"/>
<path d="M362.56 273.15V287.90M359.46 273.15H365.66M359.46 287.90H365.66" stroke="#6e1a7a" stroke-width="1.05" fill="none"/>
<path d="M380.15 277.76V286.98M377.05 277.76H383.25M377.05 286.98H383.25" stroke="#6e1a7a" stroke-width="1.05" fill="none"/>
<path d="M397.75 275.37V297.48M394.65 275.37H400.85M394.65 297.48H400.85" stroke="#6e1a7a" stroke-width="1.05" fill="none"/>
<path d="M414.98 294.35V309.10M411.88 294.35H418.08M411.88 309.10H418.08" stroke="#6e1a7a" stroke-width="1.05" fill="none"/>
<path d="M432.58 363.47V367.16M429.48 363.47H435.68M429.48 367.16H435.68" stroke="#6e1a7a" stroke-width="1.05" fill="none"/>
<path d="M450.17 363.47V369.00M447.07 363.47H453.27" stroke="#6e1a7a" stroke-width="1.05" fill="none"/>
<path d="M327.73 274.08V279.60M324.63 274.08H330.83M324.63 279.60H330.83" stroke="#e03050" stroke-width="1.05" fill="none"/>
<path d="M344.96 275.92V281.45M341.86 275.92H348.06M341.86 281.45H348.06" stroke="#e03050" stroke-width="1.05" fill="none"/>
<path d="M362.56 270.57V286.79M359.46 270.57H365.66M359.46 286.79H365.66" stroke="#e03050" stroke-width="1.05" fill="none"/>
<path d="M380.15 273.15V284.21M377.05 273.15H383.25M377.05 284.21H383.25" stroke="#e03050" stroke-width="1.05" fill="none"/>
<path d="M397.75 277.76V285.13M394.65 277.76H400.85M394.65 285.13H400.85" stroke="#e03050" stroke-width="1.05" fill="none"/>
<path d="M414.98 293.71V308.45M411.88 293.71H418.08M411.88 308.45H418.08" stroke="#e03050" stroke-width="1.05" fill="none"/>
<path d="M432.58 358.03V369.00M429.48 358.03H435.68" stroke="#e03050" stroke-width="1.05" fill="none"/>
<path d="M450.17 360.43V369.00M447.07 360.43H453.27" stroke="#e03050" stroke-width="1.05" fill="none"/>
<path d="M467.40 362.73V369.00M464.30 362.73H470.50" stroke="#e03050" stroke-width="1.05" fill="none"/>
<polyline points="301.70,276.90 303.23,276.90 304.75,276.91 306.28,276.92 307.81,276.93 309.34,276.93 310.87,276.94 312.39,276.95 313.92,276.97 315.45,276.98 316.97,276.99 318.50,277.01 320.03,277.02 321.56,277.04 323.08,277.06 324.61,277.09 326.14,277.11 327.67,277.14 329.19,277.17 330.72,277.20 332.25,277.23 333.78,277.27 335.31,277.32 336.83,277.36 338.36,277.41 339.89,277.47 341.41,277.53 342.94,277.60 344.47,277.68 346.00,277.76 347.52,277.85 349.05,277.95 350.58,278.06 352.11,278.18 353.63,278.31 355.16,278.45 356.69,278.61 358.22,278.78 359.75,278.97 361.27,279.18 362.80,279.41 364.33,279.66 365.86,279.93 367.38,280.22 368.91,280.55 370.44,280.90 371.97,281.28 373.49,281.70 375.02,282.16 376.55,282.66 378.07,283.20 379.60,283.78 381.13,284.42 382.66,285.10 384.19,285.85 385.71,286.65 387.24,287.51 388.77,288.44 390.29,289.44 391.82,290.51 393.35,291.65 394.88,292.87 396.40,294.17 397.93,295.55 399.46,297.00 400.99,298.54 402.51,300.15 404.04,301.85 405.57,303.61 407.10,305.45 408.62,307.36 410.15,309.33 411.68,311.36 413.21,313.43 414.74,315.54 416.26,317.69 417.79,319.86 419.32,322.04 420.85,324.23 422.37,326.41 423.90,328.58 425.43,330.72 426.95,332.83 428.48,334.89 430.01,336.91 431.54,338.87 433.06,340.76 434.59,342.58 436.12,344.34 437.65,346.01 439.17,347.61 440.70,349.13 442.23,350.57 443.76,351.93 445.28,353.22 446.81,354.42 448.34,355.55 449.87,356.60 451.39,357.59 452.92,358.50 454.45,359.36 455.98,360.15 457.50,360.88 459.03,361.55 460.56,362.18 462.09,362.75 463.62,363.29 465.14,363.77 466.67,364.22 468.20,364.64 469.73,365.01 471.25,365.36 472.78,365.68 474.31,365.97 475.84,366.24 477.36,366.48 478.89,366.70 480.42,366.91 481.95,367.09 483.47,367.26 485.00,367.42" fill="none" stroke="#901040" stroke-width="2.3"/>
<polyline points="301.70,276.90 303.23,276.90 304.75,276.91 306.28,276.92 307.81,276.93 309.34,276.93 310.87,276.94 312.39,276.95 313.92,276.97 315.45,276.98 316.97,276.99 318.50,277.01 320.03,277.02 321.56,277.04 323.08,277.06 324.61,277.09 326.14,277.11 327.67,277.14 329.19,277.17 330.72,277.20 332.25,277.23 333.78,277.27 335.31,277.32 336.83,277.36 338.36,277.41 339.89,277.47 341.41,277.53 342.94,277.60 344.47,277.68 346.00,277.76 347.52,277.85 349.05,277.95 350.58,278.06 352.11,278.18 353.63,278.31 355.16,278.45 356.69,278.61 358.22,278.78 359.75,278.97 361.27,279.18 362.80,279.41 364.33,279.66 365.86,279.93 367.38,280.22 368.91,280.55 370.44,280.90 371.97,281.28 373.49,281.70 375.02,282.16 376.55,282.66 378.07,283.20 379.60,283.78 381.13,284.42 382.66,285.10 384.19,285.85 385.71,286.65 387.24,287.51 388.77,288.44 390.29,289.44 391.82,290.51 393.35,291.65 394.88,292.87 396.40,294.17 397.93,295.55 399.46,297.00 400.99,298.54 402.51,300.15 404.04,301.85 405.57,303.61 407.10,305.45 408.62,307.36 410.15,309.33 411.68,311.36 413.21,313.43 414.74,315.54 416.26,317.69 417.79,319.86 419.32,322.04 420.85,324.23 422.37,326.41 423.90,328.58 425.43,330.72 426.95,332.83 428.48,334.89 430.01,336.91 431.54,338.87 433.06,340.76 434.59,342.58 436.12,344.34 437.65,346.01 439.17,347.61 440.70,349.13 442.23,350.57 443.76,351.93 445.28,353.22 446.81,354.42 448.34,355.55 449.87,356.60 451.39,357.59 452.92,358.50 454.45,359.36 455.98,360.15 457.50,360.88 459.03,361.55 460.56,362.18 462.09,362.75 463.62,363.29 465.14,363.77 466.67,364.22 468.20,364.64 469.73,365.01 471.25,365.36 472.78,365.68 474.31,365.97 475.84,366.24 477.36,366.48 478.89,366.70 480.42,366.91 481.95,367.09 483.47,367.26 485.00,367.42" fill="none" stroke="#c8103c" stroke-width="1.6"/>
<path d="M301.70 273.34L305.20 276.84L301.70 280.34L298.20 276.84Z" fill="#6e1a7a"/>
<path d="M327.73 272.42L331.23 275.92L327.73 279.42L324.23 275.92Z" fill="#6e1a7a"/>
<path d="M344.96 277.95L348.46 281.45L344.96 284.95L341.46 281.45Z" fill="#6e1a7a"/>
<path d="M362.56 277.03L366.06 280.53L362.56 284.03L359.06 280.53Z" fill="#6e1a7a"/>
<path d="M380.15 278.87L383.65 282.37L380.15 285.87L376.65 282.37Z" fill="#6e1a7a"/>
<path d="M397.75 282.92L401.25 286.42L397.75 289.92L394.25 286.42Z" fill="#6e1a7a"/>
<path d="M414.98 298.22L418.48 301.72L414.98 305.22L411.48 301.72Z" fill="#6e1a7a"/>
<path d="M432.58 361.81L436.08 365.31L432.58 368.81L429.08 365.31Z" fill="#6e1a7a"/>
<path d="M450.17 365.50L453.67 369.00L450.17 372.50L446.67 369.00Z" fill="#6e1a7a"/>
<path d="M467.40 365.50L470.90 369.00L467.40 372.50L463.90 369.00Z" fill="#6e1a7a"/>
<path d="M485.00 365.50L488.50 369.00L485.00 372.50L481.50 369.00Z" fill="#6e1a7a"/>
<path d="M301.70 273.17L305.20 279.82L298.20 279.82Z" fill="#ee1122"/>
<path d="M327.73 273.17L331.23 279.82L324.23 279.82Z" fill="#ee1122"/>
<path d="M344.96 275.01L348.46 281.66L341.46 281.66Z" fill="#ee1122"/>
<path d="M362.56 275.01L366.06 281.66L359.06 281.66Z" fill="#ee1122"/>
<path d="M380.15 275.01L383.65 281.66L376.65 281.66Z" fill="#ee1122"/>
<path d="M397.75 277.77L401.25 284.42L394.25 284.42Z" fill="#ee1122"/>
<path d="M414.98 297.40L418.48 304.05L411.48 304.05Z" fill="#ee1122"/>
<path d="M432.58 360.35L436.08 367.00L429.08 367.00Z" fill="#ee1122"/>
<path d="M450.17 365.05L453.67 371.70L446.67 371.70Z" fill="#ee1122"/>
<path d="M467.40 365.05L470.90 371.70L463.90 371.70Z" fill="#ee1122"/>
<path d="M485.00 365.05L488.50 371.70L481.50 371.70Z" fill="#ee1122"/>
<line x1="406.4" y1="255.70" x2="421.9" y2="255.70" stroke="#ee1122" stroke-width="1.5"/>
<path d="M414.10 251.47L418.12 259.12L410.07 259.12Z" fill="#ee1122"/>
<text x="426.9" y="260.10" font-size="10.35" stroke="#111" stroke-width="0.18">EC<tspan font-size="7.8" dy="2.6">50</tspan><tspan dy="-2.6"> = 1.7 µM</tspan></text>
<line x1="406.4" y1="268.90" x2="421.9" y2="268.90" stroke="#6e1a7a" stroke-width="1.5"/>
<path d="M414.10 264.88L418.12 268.90L414.10 272.92L410.07 268.90Z" fill="#6e1a7a"/>
<text x="426.9" y="273.30" font-size="10.35" stroke="#111" stroke-width="0.18">EC<tspan font-size="7.8" dy="2.6">50</tspan><tspan dy="-2.6"> = 1.5 µM</tspan></text>
<text x="630.5" y="243.4" font-size="10.45" font-weight="bold" text-anchor="middle">Bioluminescence</text>
<line x1="539.2" y1="322.50" x2="721.2" y2="322.50" stroke="#303030" stroke-width="1.15" stroke-dasharray="3.1 1.4"/>
<path d="M538.20 254.00V369.00H721.20" fill="none" stroke="#000" stroke-width="1.45"/>
<line x1="535.80" y1="369.00" x2="538.20" y2="369.00" stroke="#111111" stroke-width="1.3"/>
<text x="531.10" y="373.40" font-size="10.4" font-weight="bold" text-anchor="end">0</text>
<line x1="535.80" y1="346.00" x2="538.20" y2="346.00" stroke="#111111" stroke-width="1.3"/>
<text x="531.10" y="350.40" font-size="10.4" font-weight="bold" text-anchor="end">25</text>
<line x1="535.80" y1="323.00" x2="538.20" y2="323.00" stroke="#111111" stroke-width="1.3"/>
<text x="531.10" y="327.40" font-size="10.4" font-weight="bold" text-anchor="end">50</text>
<line x1="535.80" y1="300.00" x2="538.20" y2="300.00" stroke="#111111" stroke-width="1.3"/>
<text x="531.10" y="304.40" font-size="10.4" font-weight="bold" text-anchor="end">75</text>
<line x1="535.80" y1="277.00" x2="538.20" y2="277.00" stroke="#111111" stroke-width="1.3"/>
<text x="531.10" y="281.40" font-size="10.4" font-weight="bold" text-anchor="end">100</text>
<line x1="535.80" y1="254.00" x2="538.20" y2="254.00" stroke="#111111" stroke-width="1.3"/>
<text x="531.10" y="258.40" font-size="10.4" font-weight="bold" text-anchor="end">125</text>
<line x1="538.20" y1="369.00" x2="538.20" y2="371.60" stroke="#111111" stroke-width="1.3"/>
<text x="538.20" y="385.00" font-size="10.4" font-weight="bold" text-anchor="middle">-3</text>
<line x1="574.80" y1="369.00" x2="574.80" y2="371.60" stroke="#111111" stroke-width="1.3"/>
<text x="574.80" y="385.00" font-size="10.4" font-weight="bold" text-anchor="middle">-2</text>
<line x1="611.40" y1="369.00" x2="611.40" y2="371.60" stroke="#111111" stroke-width="1.3"/>
<text x="611.40" y="385.00" font-size="10.4" font-weight="bold" text-anchor="middle">1</text>
<line x1="648.00" y1="369.00" x2="648.00" y2="371.60" stroke="#111111" stroke-width="1.3"/>
<text x="648.00" y="385.00" font-size="10.4" font-weight="bold" text-anchor="middle">0</text>
<line x1="684.60" y1="369.00" x2="684.60" y2="371.60" stroke="#111111" stroke-width="1.3"/>
<text x="684.60" y="385.00" font-size="10.4" font-weight="bold" text-anchor="middle">1</text>
<line x1="721.20" y1="369.00" x2="721.20" y2="371.60" stroke="#111111" stroke-width="1.3"/>
<text x="721.20" y="385.00" font-size="10.4" font-weight="bold" text-anchor="middle">2</text>
<text x="629.7" y="401.7" font-size="10.4" font-weight="bold" text-anchor="middle">Remdesivir [Log<tspan font-size="8" dy="2.5">10</tspan><tspan dy="-2.5"> µM]</tspan></text>
<text transform="translate(509.3,311.5) rotate(-90)" font-size="10.5" font-weight="bold" text-anchor="middle">Nluc activity (%)</text>
<path d="M564.19 263.38V286.94M561.09 263.38H567.29M561.09 286.94H567.29" stroke="#6e1a7a" stroke-width="1.05" fill="none"/>
<path d="M581.39 267.80V289.88M578.29 267.80H584.49M578.29 289.88H584.49" stroke="#6e1a7a" stroke-width="1.05" fill="none"/>
<path d="M598.96 271.11V289.51M595.86 271.11H602.06M595.86 289.51H602.06" stroke="#6e1a7a" stroke-width="1.05" fill="none"/>
<path d="M616.52 278.93V284.45M613.42 278.93H619.62M613.42 284.45H619.62" stroke="#6e1a7a" stroke-width="1.05" fill="none"/>
<path d="M634.09 283.35V295.31M630.99 283.35H637.19M630.99 295.31H637.19" stroke="#6e1a7a" stroke-width="1.05" fill="none"/>
<path d="M651.29 311.41V318.77M648.19 311.41H654.39M648.19 318.77H654.39" stroke="#6e1a7a" stroke-width="1.05" fill="none"/>
<path d="M668.86 354.10V355.94M665.76 354.10H671.96M665.76 355.94H671.96" stroke="#6e1a7a" stroke-width="1.05" fill="none"/>
<path d="M686.43 357.96V359.80M683.33 357.96H689.53M683.33 359.80H689.53" stroke="#6e1a7a" stroke-width="1.05" fill="none"/>
<path d="M703.63 359.80V361.64M700.53 359.80H706.73M700.53 361.64H706.73" stroke="#6e1a7a" stroke-width="1.05" fill="none"/>
<path d="M721.20 359.80V361.64M718.10 359.80H724.30M718.10 361.64H724.30" stroke="#6e1a7a" stroke-width="1.05" fill="none"/>
<path d="M564.19 261.54V282.70M561.09 261.54H567.29M561.09 282.70H567.29" stroke="#2828a8" stroke-width="1.05" fill="none"/>
<path d="M581.39 271.48V282.52M578.29 271.48H584.49M578.29 282.52H584.49" stroke="#2828a8" stroke-width="1.05" fill="none"/>
<path d="M598.96 271.94V282.06M595.86 271.94H602.06M595.86 282.06H602.06" stroke="#2828a8" stroke-width="1.05" fill="none"/>
<path d="M616.52 272.68V283.72M613.42 272.68H619.62M613.42 283.72H619.62" stroke="#2828a8" stroke-width="1.05" fill="none"/>
<path d="M634.09 280.22V292.18M630.99 280.22H637.19M630.99 292.18H637.19" stroke="#2828a8" stroke-width="1.05" fill="none"/>
<path d="M651.29 319.96V332.48M648.19 319.96H654.39M648.19 332.48H654.39" stroke="#2828a8" stroke-width="1.05" fill="none"/>
<path d="M668.86 349.40V354.92M665.76 349.40H671.96M665.76 354.92H671.96" stroke="#2828a8" stroke-width="1.05" fill="none"/>
<path d="M686.43 355.94V359.62M683.33 355.94H689.53M683.33 359.62H689.53" stroke="#2828a8" stroke-width="1.05" fill="none"/>
<path d="M703.63 357.04V360.72M700.53 357.04H706.73M700.53 360.72H706.73" stroke="#2828a8" stroke-width="1.05" fill="none"/>
<path d="M721.20 355.66V359.34M718.10 355.66H724.30M718.10 359.34H724.30" stroke="#2828a8" stroke-width="1.05" fill="none"/>
<polyline points="538.20,277.06 539.73,277.06 541.25,277.07 542.78,277.08 544.30,277.08 545.83,277.09 547.35,277.10 548.88,277.11 550.40,277.12 551.93,277.13 553.45,277.15 554.98,277.16 556.50,277.18 558.03,277.20 559.55,277.22 561.08,277.24 562.60,277.27 564.12,277.29 565.65,277.32 567.18,277.35 568.70,277.39 570.23,277.43 571.75,277.47 573.28,277.52 574.80,277.57 576.33,277.63 577.85,277.70 579.38,277.77 580.90,277.84 582.43,277.93 583.95,278.02 585.48,278.13 587.00,278.24 588.53,278.36 590.05,278.50 591.58,278.65 593.10,278.81 594.62,278.99 596.15,279.19 597.68,279.41 599.20,279.65 600.73,279.91 602.25,280.19 603.78,280.51 605.30,280.85 606.83,281.22 608.35,281.63 609.88,282.07 611.40,282.56 612.93,283.09 614.45,283.66 615.98,284.28 617.50,284.96 619.03,285.70 620.55,286.49 622.08,287.35 623.60,288.27 625.12,289.26 626.65,290.33 628.18,291.47 629.70,292.69 631.23,294.00 632.75,295.38 634.28,296.85 635.80,298.40 637.33,300.03 638.85,301.74 640.38,303.53 641.90,305.40 643.43,307.34 644.95,309.34 646.48,311.40 648.00,313.51 649.53,315.66 651.05,317.85 652.58,320.06 654.10,322.29 655.62,324.51 657.15,326.74 658.68,328.94 660.20,331.12 661.73,333.26 663.25,335.35 664.78,337.39 666.30,339.37 667.83,341.28 669.35,343.12 670.88,344.88 672.40,346.57 673.93,348.17 675.45,349.69 676.98,351.13 678.50,352.48 680.03,353.75 681.55,354.95 683.08,356.06 684.60,357.10 686.12,358.07 687.65,358.97 689.18,359.80 690.70,360.58 692.23,361.29 693.75,361.95 695.28,362.55 696.80,363.11 698.33,363.62 699.85,364.09 701.38,364.52 702.90,364.92 704.43,365.28 705.95,365.61 707.48,365.91 709.00,366.19 710.53,366.44 712.05,366.67 713.58,366.88 715.10,367.07 716.62,367.25 718.15,367.41 719.68,367.55 721.20,367.68" fill="none" stroke="#4a1a80" stroke-width="1.9"/>
<polyline points="538.20,277.06 539.73,277.06 541.25,277.07 542.78,277.07 544.30,277.08 545.83,277.09 547.35,277.10 548.88,277.11 550.40,277.12 551.93,277.13 553.45,277.15 554.98,277.16 556.50,277.18 558.03,277.20 559.55,277.22 561.08,277.24 562.60,277.26 564.12,277.29 565.65,277.32 567.18,277.35 568.70,277.39 570.23,277.43 571.75,277.47 573.28,277.52 574.80,277.57 576.33,277.63 577.85,277.69 579.38,277.76 580.90,277.83 582.43,277.92 583.95,278.01 585.48,278.11 587.00,278.22 588.53,278.35 590.05,278.48 591.58,278.63 593.10,278.79 594.62,278.97 596.15,279.17 597.68,279.38 599.20,279.62 600.73,279.87 602.25,280.16 603.78,280.47 605.30,280.80 606.83,281.17 608.35,281.58 609.88,282.02 611.40,282.50 612.93,283.02 614.45,283.59 615.98,284.21 617.50,284.88 619.03,285.60 620.55,286.39 622.08,287.24 623.60,288.16 625.12,289.14 626.65,290.20 628.18,291.33 629.70,292.54 631.23,293.84 632.75,295.21 634.28,296.67 635.80,298.21 637.33,299.83 638.85,301.53 640.38,303.31 641.90,305.17 643.43,307.10 644.95,309.10 646.48,311.15 648.00,313.25 649.53,315.40 651.05,317.59 652.58,319.80 654.10,322.02 655.62,324.25 657.15,326.47 658.68,328.68 660.20,330.86 661.73,333.00 663.25,335.10 664.78,337.15 666.30,339.13 667.83,341.05 669.35,342.90 670.88,344.68 672.40,346.37 673.93,347.98 675.45,349.51 676.98,350.96 678.50,352.32 680.03,353.61 681.55,354.81 683.08,355.93 684.60,356.98 686.12,357.96 687.65,358.87 689.18,359.71 690.70,360.49 692.23,361.21 693.75,361.87 695.28,362.48 696.80,363.04 698.33,363.56 699.85,364.04 701.38,364.47 702.90,364.87 704.43,365.24 705.95,365.57 707.48,365.88 709.00,366.16 710.53,366.41 712.05,366.65 713.58,366.86 715.10,367.05 716.62,367.23 718.15,367.39 719.68,367.54 721.20,367.67" fill="none" stroke="#2414b4" stroke-width="1.5"/>
<path d="M538.20 273.50L541.70 277.00L538.20 280.50L534.70 277.00Z" fill="#6e1a7a"/>
<path d="M564.19 271.66L567.69 275.16L564.19 278.66L560.69 275.16Z" fill="#6e1a7a"/>
<path d="M581.39 275.34L584.89 278.84L581.39 282.34L577.89 278.84Z" fill="#6e1a7a"/>
<path d="M598.96 276.81L602.46 280.31L598.96 283.81L595.46 280.31Z" fill="#6e1a7a"/>
<path d="M616.52 278.19L620.02 281.69L616.52 285.19L613.02 281.69Z" fill="#6e1a7a"/>
<path d="M634.09 285.83L637.59 289.33L634.09 292.83L630.59 289.33Z" fill="#6e1a7a"/>
<path d="M651.29 311.59L654.79 315.09L651.29 318.59L647.79 315.09Z" fill="#6e1a7a"/>
<path d="M668.86 351.52L672.36 355.02L668.86 358.52L665.36 355.02Z" fill="#6e1a7a"/>
<path d="M686.43 355.38L689.93 358.88L686.43 362.38L682.93 358.88Z" fill="#6e1a7a"/>
<path d="M703.63 357.22L707.13 360.72L703.63 364.22L700.13 360.72Z" fill="#6e1a7a"/>
<path d="M721.20 357.22L724.70 360.72L721.20 364.22L717.70 360.72Z" fill="#6e1a7a"/>
<rect x="535.50" y="274.30" width="5.40" height="5.40" fill="#1616d8"/>
<rect x="561.49" y="269.42" width="5.40" height="5.40" fill="#1616d8"/>
<rect x="578.69" y="274.30" width="5.40" height="5.40" fill="#1616d8"/>
<rect x="596.26" y="274.30" width="5.40" height="5.40" fill="#1616d8"/>
<rect x="613.82" y="275.50" width="5.40" height="5.40" fill="#1616d8"/>
<rect x="631.39" y="283.50" width="5.40" height="5.40" fill="#1616d8"/>
<rect x="648.59" y="323.52" width="5.40" height="5.40" fill="#1616d8"/>
<rect x="666.16" y="349.46" width="5.40" height="5.40" fill="#1616d8"/>
<rect x="683.73" y="355.08" width="5.40" height="5.40" fill="#1616d8"/>
<rect x="700.93" y="356.18" width="5.40" height="5.40" fill="#1616d8"/>
<rect x="718.50" y="354.80" width="5.40" height="5.40" fill="#1616d8"/>
<line x1="643.9" y1="255.70" x2="659.4" y2="255.70" stroke="#1616d8" stroke-width="1.5"/>
<rect x="648.12" y="252.22" width="6.96" height="6.96" fill="#1616d8"/>
<text x="664.4" y="260.10" font-size="10.35" stroke="#111" stroke-width="0.18">EC<tspan font-size="7.8" dy="2.6">50</tspan><tspan dy="-2.6"> = 1.4 µM</tspan></text>
<line x1="643.9" y1="268.90" x2="659.4" y2="268.90" stroke="#6e1a7a" stroke-width="1.5"/>
<path d="M651.60 264.88L655.62 268.90L651.60 272.92L647.58 268.90Z" fill="#6e1a7a"/>
<text x="664.4" y="273.30" font-size="10.35" stroke="#111" stroke-width="0.18">EC<tspan font-size="7.8" dy="2.6">50</tspan><tspan dy="-2.6"> = 1.5 µM</tspan></text>
<line x1="249.8" y1="201.40" x2="265.3" y2="201.40" stroke="#111111" stroke-width="1.4"/>
<circle cx="257.50" cy="201.40" r="3.36" fill="#111111"/>
<text x="269.6" y="205.60" font-size="10.5" font-weight="bold">WT</text>
<line x1="305.8" y1="201.40" x2="321.3" y2="201.40" stroke="#ee1122" stroke-width="1.4"/>
<path d="M313.50 196.99L317.70 204.97L309.30 204.97Z" fill="#ee1122"/>
<text x="327.3" y="205.60" font-size="10.5" font-weight="bold">mCherry</text>
<line x1="384.0" y1="201.40" x2="399.5" y2="201.40" stroke="#1616d8" stroke-width="1.4"/>
<rect x="388.07" y="197.77" width="7.26" height="7.26" fill="#1616d8"/>
<text x="405.3" y="205.60" font-size="10.5" font-weight="bold">Nluc</text>
<line x1="440.0" y1="201.40" x2="455.5" y2="201.40" stroke="#6e1a7a" stroke-width="1.4"/>
<path d="M447.70 197.20L451.90 201.40L447.70 205.60L443.50 201.40Z" fill="#6e1a7a"/>
<text x="459.3" y="205.60" font-size="10.5" font-weight="bold">mCherry-Nluc</text>
<line x1="249.8" y1="421.40" x2="265.3" y2="421.40" stroke="#111111" stroke-width="1.4"/>
<circle cx="257.50" cy="421.40" r="3.36" fill="#111111"/>
<text x="269.6" y="425.60" font-size="10.5" font-weight="bold">WT</text>
<line x1="305.8" y1="421.40" x2="321.3" y2="421.40" stroke="#ee1122" stroke-width="1.4"/>
<path d="M313.50 416.99L317.70 424.97L309.30 424.97Z" fill="#ee1122"/>
<text x="327.3" y="425.60" font-size="10.5" font-weight="bold">mCherry</text>
<line x1="384.0" y1="421.40" x2="399.5" y2="421.40" stroke="#1616d8" stroke-width="1.4"/>
<rect x="388.07" y="417.77" width="7.26" height="7.26" fill="#1616d8"/>
<text x="405.3" y="425.60" font-size="10.5" font-weight="bold">Nluc</text>
<line x1="440.0" y1="421.40" x2="455.5" y2="421.40" stroke="#6e1a7a" stroke-width="1.4"/>
<path d="M447.70 417.20L451.90 421.40L447.70 425.60L443.50 421.40Z" fill="#6e1a7a"/>
<text x="459.3" y="425.60" font-size="10.5" font-weight="bold">mCherry-Nluc</text>
</svg>
</body></html>
